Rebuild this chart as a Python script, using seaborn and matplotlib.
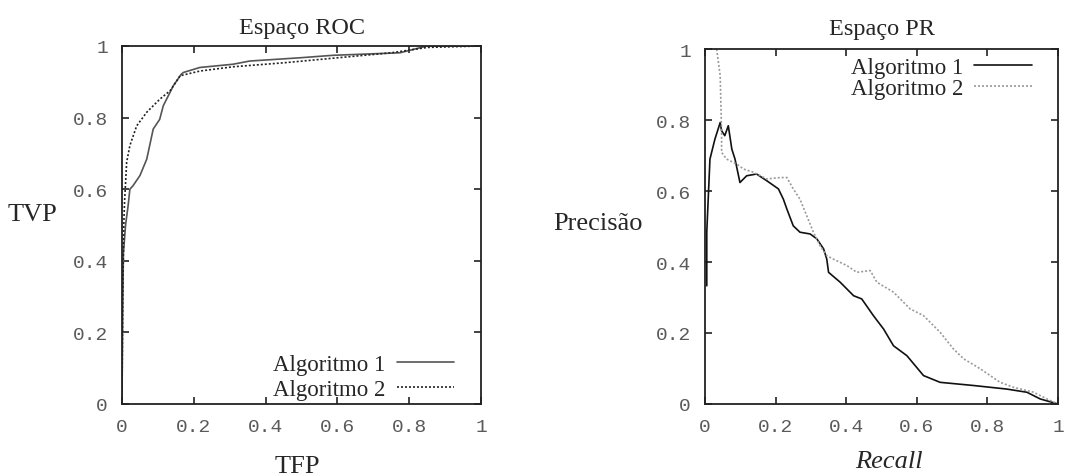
import numpy as np
import pandas as pd
import matplotlib
matplotlib.use("Agg")
import matplotlib.pyplot as plt
import seaborn as sns

# ROC curves
roc_fp_1 = [0.0, 0.002, 0.004, 0.01, 0.017, 0.022, 0.031, 0.05, 0.069, 0.087, 0.105, 0.115, 0.124,
            0.143, 0.165, 0.171, 0.217, 0.309, 0.356, 0.495, 0.588, 0.774, 0.849, 1.0]
roc_tp_1 = [0.0, 0.25, 0.42, 0.50, 0.553, 0.60, 0.61, 0.638, 0.684, 0.768, 0.795, 0.833, 0.851,
            0.889, 0.921, 0.926, 0.94, 0.949, 0.958, 0.967, 0.974, 0.981, 1.0, 1.0]
roc_fp_2 = [0.0, 0.002, 0.005, 0.007, 0.013, 0.022, 0.041, 0.069, 0.106, 0.134, 0.162, 0.217,
            0.31, 0.45, 0.6, 0.75, 0.85, 1.0]
roc_tp_2 = [0.0, 0.3, 0.5, 0.56, 0.675, 0.722, 0.777, 0.815, 0.852, 0.875, 0.917, 0.93,
            0.942, 0.953, 0.967, 0.981, 0.996, 1.0]

# PR curves
pr_rec_1 = [0.005, 0.005, 0.014, 0.028, 0.043, 0.047, 0.056, 0.066, 0.076, 0.085, 0.099, 0.118,
            0.146, 0.175, 0.208, 0.222, 0.232, 0.25, 0.269, 0.298, 0.317, 0.336, 0.345, 0.35,
            0.383, 0.421, 0.444, 0.477, 0.506, 0.534, 0.572, 0.619, 0.666, 0.761, 0.855, 0.912,
            0.95, 1.0]
pr_prec_1 = [0.333, 0.484, 0.69, 0.746, 0.793, 0.77, 0.756, 0.784, 0.718, 0.69, 0.624, 0.643,
             0.648, 0.629, 0.606, 0.577, 0.549, 0.502, 0.484, 0.479, 0.465, 0.437, 0.408, 0.371,
             0.343, 0.305, 0.296, 0.249, 0.211, 0.164, 0.136, 0.08, 0.061, 0.052, 0.042, 0.033,
             0.014, 0.0]
pr_rec_2 = [0.033, 0.043, 0.047, 0.047, 0.061, 0.09, 0.109, 0.137, 0.175, 0.213, 0.232, 0.25,
            0.269, 0.288, 0.307, 0.326, 0.345, 0.364, 0.402, 0.43, 0.468, 0.487, 0.534, 0.581,
            0.619, 0.666, 0.704, 0.733, 0.78, 0.836, 0.874, 0.931, 0.969, 1.0]
pr_prec_2 = [1.0, 0.925, 0.765, 0.709, 0.69, 0.676, 0.662, 0.653, 0.634, 0.638, 0.638, 0.606,
             0.577, 0.531, 0.484, 0.446, 0.418, 0.408, 0.39, 0.371, 0.376, 0.343, 0.315, 0.268,
             0.249, 0.202, 0.155, 0.127, 0.099, 0.061, 0.047, 0.033, 0.014, 0.0]

names = ["Algoritmo 1", "Algoritmo 2"]
ticks = [0, 0.2, 0.4, 0.6, 0.8, 1]
tick_labels = ["0", "0.2", "0.4", "0.6", "0.8", "1"]

roc = pd.concat([
    pd.DataFrame({"x": roc_fp_1, "y": roc_tp_1, "alg": names[0]}),
    pd.DataFrame({"x": roc_fp_2, "y": roc_tp_2, "alg": names[1]}),
])
pr = pd.concat([
    pd.DataFrame({"x": pr_rec_1, "y": pr_prec_1, "alg": names[0]}),
    pd.DataFrame({"x": pr_rec_2, "y": pr_prec_2, "alg": names[1]}),
])

sns.set_style("ticks")
serif = "Liberation Serif"
mono = "Liberation Mono"

fig = plt.figure(figsize=(10.69, 4.77), dpi=100)
ax1 = fig.add_axes([0.1141, 0.151, 0.336, 0.7505])
ax2 = fig.add_axes([0.6595, 0.151, 0.3302, 0.744])

dashes = {names[0]: "", names[1]: (1.2, 1.2)}

sns.lineplot(data=roc, x="x", y="y", hue="alg", style="alg", ax=ax1, sort=False, estimator=None,
             palette={names[0]: "#555555", names[1]: "#222222"}, dashes=dashes, linewidth=1.2)
sns.lineplot(data=pr, x="x", y="y", hue="alg", style="alg", ax=ax2, sort=False, estimator=None,
             palette={names[0]: "#111111", names[1]: "#9a9a9a"}, dashes=dashes, linewidth=1.2)

for ax in (ax1, ax2):
    ax.set_xlim(0, 1)
    ax.set_ylim(0, 1)
    ax.set_xticks(ticks)
    ax.set_yticks(ticks)
    ax.set_xticklabels(tick_labels, fontfamily=mono, fontsize=14, color="#5a5a5a")
    ax.set_yticklabels(tick_labels, fontfamily=mono, fontsize=14, color="#5a5a5a")
    ax.tick_params(direction="in", length=5, width=1.2, top=True, right=True, color="#222222")
    ax.tick_params(axis="y", pad=10)
    ax.tick_params(axis="x", pad=10)
    for s in ax.spines.values():
        s.set_linewidth(1.3)
        s.set_color("#222222")

ax1.set_title("Espaço ROC", fontfamily=serif, fontsize=17.5, pad=9)
ax2.set_title("Espaço PR", fontfamily=serif, fontsize=17.5, pad=11)

lab = dict(fontfamily=serif, fontsize=19)
ax1.set_xlabel("TFP", va="center", **lab)
ax1.xaxis.set_label_coords(0.487, -0.173)
ax1.set_ylabel("TVP", rotation=0, va="center", ha="center", **lab)
ax1.yaxis.set_label_coords(-0.248, 0.53)
ax2.set_xlabel("Recall", style="italic", va="center", **lab)
ax2.xaxis.set_label_coords(0.521, -0.161)
ax2.set_ylabel("Precisão", rotation=0, va="center", ha="center", **lab)
ax2.yaxis.set_label_coords(-0.303, 0.51)

leg_kw = dict(frameon=False, markerfirst=False, handlelength=2.5,
              handletextpad=0.5, prop={"family": serif, "size": 16.5}, title=None)
h, l = ax1.get_legend_handles_labels()
ax1.legend(h, l, loc="lower right", bbox_to_anchor=(0.983, -0.046), labelspacing=0.16, **leg_kw)
h, l = ax2.get_legend_handles_labels()
ax2.legend(h, l, loc="upper right", bbox_to_anchor=(0.984, 1.036), labelspacing=-0.02, **leg_kw)

fig.savefig("out.png", dpi=100)
